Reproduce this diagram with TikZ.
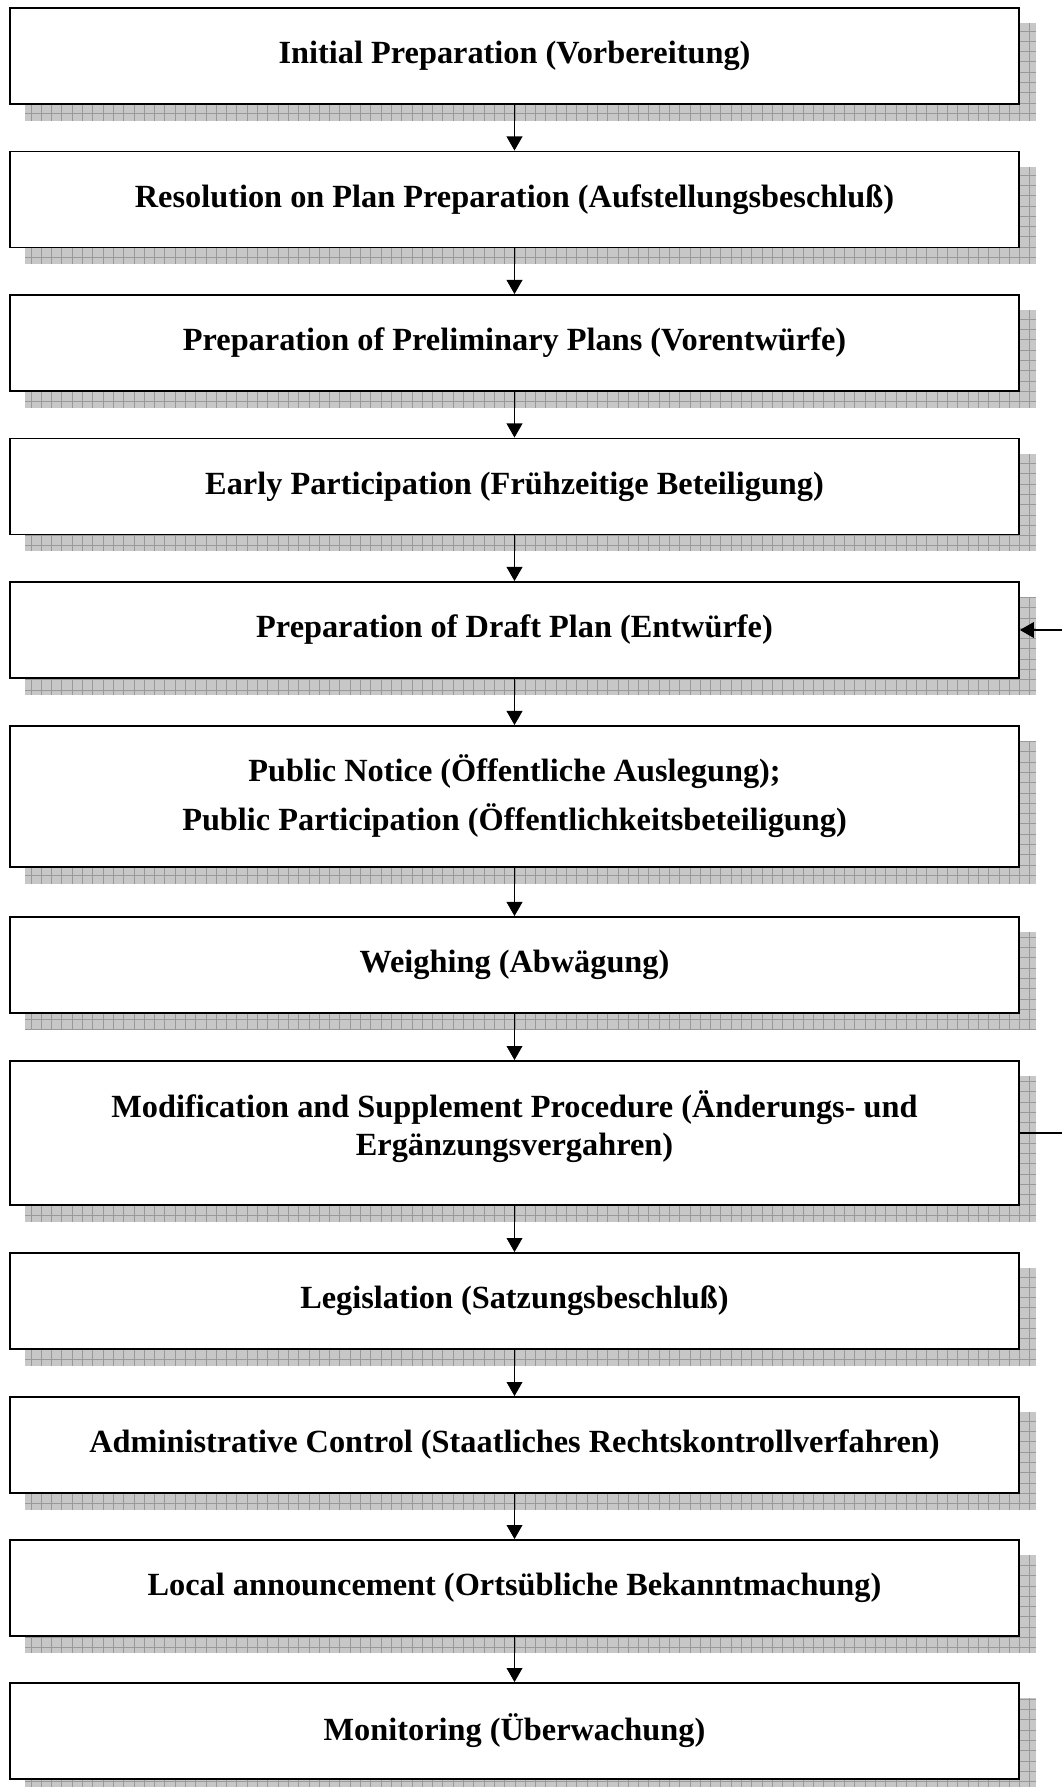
\documentclass[tikz,border=0pt]{standalone}
\usepackage{fontspec}
\setmainfont{Liberation Serif}
\usetikzlibrary{arrows.meta,backgrounds}
\tikzset{
	stage/.style={draw, line width=1.1pt, fill=white, inner sep=0pt, align=center,
		minimum width=20.18cm, minimum height=1.92cm,
		font=\bfseries\fontsize{18.4pt}{27.9pt}\selectfont},
	flow/.style={-{Triangle[length=8pt,width=9pt]}, line width=0.6pt},
	hatch/.style={fill=black!22},
	hatchgrid/.style={draw=black!40, line width=0.4pt}
}
\begin{document}
\begin{tikzpicture}[x=0.02cm,y=-0.02cm]
		\useasboundingbox (0,0) rectangle (1062,1787);
		\node[stage] (s1) at (514.5,56) {Initial Preparation (Vorbereitung)};
		\node[stage] (s2) at (514.5,199.5) {Resolution on Plan Preparation (Aufstellungsbeschluß)};
		\node[stage] (s3) at (514.5,343) {Preparation of Preliminary Plans (Vorentwürfe)};
		\node[stage] (s4) at (514.5,486.5) {Early Participation (Frühzeitige Beteiligung)};
		\node[stage] (s5) at (514.5,630) {Preparation of Draft Plan (Entwürfe)};
		\node[stage, minimum height=2.82cm] (s6) at (514.5,796.5) {Public Notice (Öffentliche Auslegung);\\Public Participation (Öffentlichkeitsbeteiligung)};
		\node[stage] (s7) at (514.5,965) {Weighing (Abwägung)};
		\node[stage, minimum height=2.88cm, text depth=0.4cm, font=\bfseries\fontsize{18.4pt}{21.6pt}\selectfont] (s8) at (514.5,1133) {Modification and Supplement Procedure (Änderungs- und\\Ergänzungsvergahren)};
		\node[stage] (s9) at (514.5,1301) {Legislation (Satzungsbeschluß)};
		\node[stage] (s10) at (514.5,1445) {Administrative Control (Staatliches Rechtskontrollverfahren)};
		\node[stage] (s11) at (514.5,1588) {Local announcement (Ortsübliche Bekanntmachung)};
		\node[stage] (s12) at (514.5,1731) {Monitoring (Überwachung)};
		% hatched shadows behind the boxes
		\begin{scope}[on background layer]
			\foreach \i in {1,...,12} {
				\fill[hatch] ([shift={(16,16)}]s\i.south west) rectangle ([shift={(16,16)}]s\i.north east);
				\draw[hatchgrid, step=0.206cm] ([shift={(16,16)}]s\i.south west) grid ([shift={(16,16)}]s\i.north east);
			}
		\end{scope}
		\foreach \a/\b in {s1/s2,s2/s3,s3/s4,s4/s5,s5/s6,s6/s7,s7/s8,s8/s9,s9/s10,s10/s11,s11/s12}
			\draw[flow] (\a) -- (\b);
		% loop back on the right edge
		\coordinate (fbin) at (1062,630);
		\coordinate (fbout) at (1062,1133);
		\draw[flow] (fbin) -- (s5.east);
		\draw[line width=0.6pt] (s8.east) -- (fbout);
	\end{tikzpicture}
\end{document}
